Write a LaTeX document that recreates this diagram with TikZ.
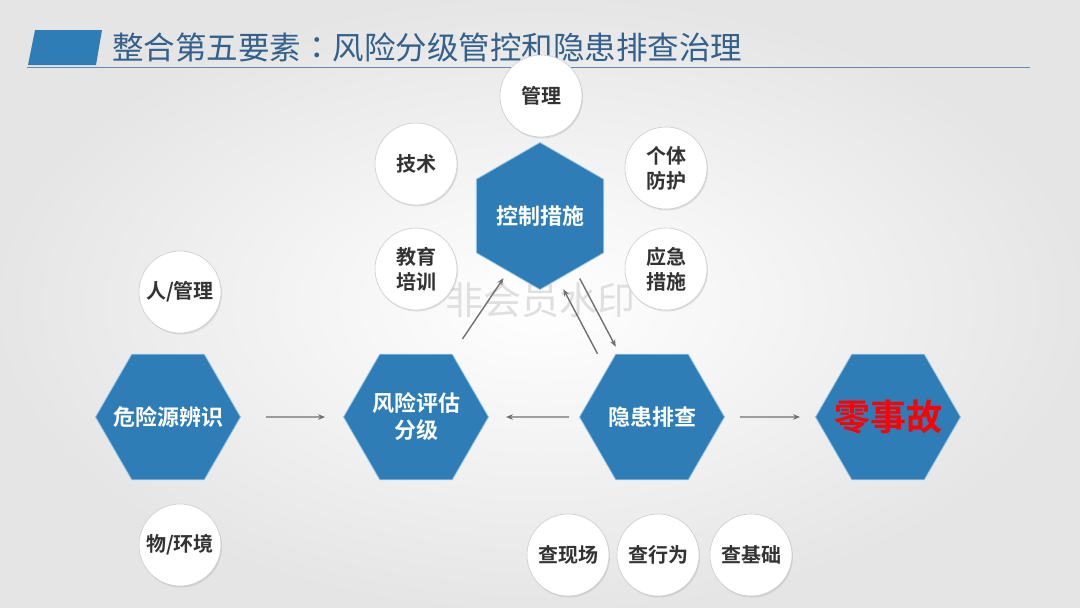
\documentclass[tikz,border=0pt]{standalone}
\usepackage{fontspec}
\setmainfont{Noto Sans CJK SC}[BoldFont={Noto Sans CJK SC Bold}]
\newfontfamily\tcfont{Noto Sans CJK TC}
\usepackage{xcolor}
\usetikzlibrary{shapes.geometric,arrows.meta,shadows}

\definecolor{hexblue}{RGB}{46,125,182}
\definecolor{hexrim}{RGB}{150,196,228}
\definecolor{titleblue}{RGB}{52,96,138}
\definecolor{arrowgray}{RGB}{112,112,112}
\definecolor{balltext}{RGB}{51,51,51}

\newcommand{\hextext}[1]{\makebox[0pt]{#1}}

\tikzset{
	hexnode/.style={regular polygon, regular polygon sides=6, minimum size=145pt, inner sep=0pt,
		fill=hexblue, draw=hexrim, line width=0.8pt, text=white, align=center,
		font=\bfseries\fontsize{22}{27}\selectfont},
	ballnode/.style={circle, minimum size=82pt, inner sep=0pt, fill=white, draw=gray!40, line width=0.6pt,
		drop shadow={opacity=0.2, shadow xshift=1pt, shadow yshift=-1.5pt},
		text=balltext, align=center, font=\bfseries\fontsize{20}{25}\selectfont},
	flowarrow/.style={draw=arrowgray, line width=1.4pt, -{Stealth[length=7pt,width=5.5pt]}}
}

\begin{document}
\begin{tikzpicture}[x=1pt,y=-1pt]
			\useasboundingbox (0,0) rectangle (1080,608);
			\shade[inner color=white, outer color=gray!20] (0,0) rectangle (1080,608);

			\fill[hexblue] (35,30) -- (102,30) -- (96,65) -- (28,65) -- cycle;
			\draw[titleblue!75, line width=0.8pt] (27,67) -- (1030,67);
			\node[anchor=west, inner sep=0pt, text=titleblue, font=\fontsize{31.5}{32}\selectfont] (title) at (112,47)
				{整合第五要素{\tcfont ：}风险分级管控和隐患排查治理};

			\node[text=gray!25, font=\fontsize{38}{38}\selectfont] (mark) at (540,300) {非会员水印};

			\node[hexnode] (hz) at (168,417) {\hextext{危险源辨识}};
			\node[hexnode] (fx) at (416,417) {风险评估\\分级};
			\node[hexnode] (hp) at (652,417) {隐患排查};
			\node[hexnode, text=red, font=\bfseries\fontsize{36}{36}\selectfont] (zs) at (888,417) {\hextext{零事故}};
			\node[hexnode, minimum size=147pt, shape border rotate=30] (kz) at (540,216) {控制措施};

			\node[ballnode] (gl) at (541,96) {管理};
			\node[ballnode] (js) at (416,164) {技术};
			\node[ballnode] (gt) at (666,168) {个体\\防护};
			\node[ballnode] (jy) at (416,269) {教育\\培训};
			\node[ballnode] (yj) at (666,269) {应急\\措施};
			\node[ballnode] (rg) at (180,292) {人/管理};
			\node[ballnode] (wh) at (180,545) {物/环境};
			\node[ballnode] (cx) at (568,555) {查现场};
			\node[ballnode] (cw) at (658,555) {查行为};
			\node[ballnode] (cj) at (751,555) {查基础};

			\draw[flowarrow, shorten <=25pt, shorten >=18pt] (hz.east) -- (fx.west);
			\draw[flowarrow, shorten <=10pt, shorten >=17pt] (hp.west) -- (fx.east);
			\draw[flowarrow, shorten <=15pt, shorten >=15pt] (hp.east) -- (zs.west);
			\draw[flowarrow, shorten <=18pt, shorten >=8pt] (fx.60) -- (kz.240);
			\draw[flowarrow, shorten <=0pt, shorten >=20pt] ([xshift=-18pt]hp.120) -- ([xshift=-18pt]kz.300);
			\draw[flowarrow, shorten <=8pt, shorten >=8pt] ([xshift=4pt]kz.300) -- ([xshift=4pt]hp.120);
		\end{tikzpicture}
\end{document}
